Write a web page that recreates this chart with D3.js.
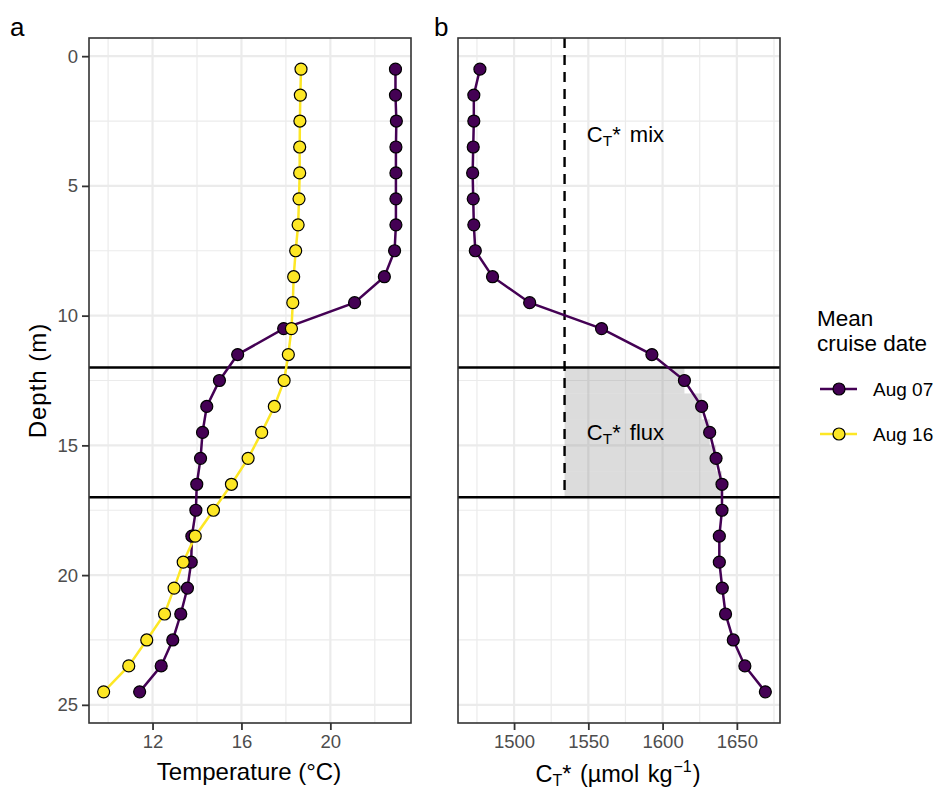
<!DOCTYPE html>
<html>
<head>
<meta charset="utf-8">
<script src="https://cdn.jsdelivr.net/npm/d3@7"></script>
<style>
body { margin: 0; background: #fff; }
text { font-family: "Liberation Sans", Arial, sans-serif; }
</style>
</head>
<body>
<div id="chart"></div>
<script>
// depth of each bin (m)
var depth = [0.5, 1.5, 2.5, 3.5, 4.5, 5.5, 6.5, 7.5, 8.5, 9.5, 10.5, 11.5, 12.5,
             13.5, 14.5, 15.5, 16.5, 17.5, 18.5, 19.5, 20.5, 21.5, 22.5, 23.5, 24.5];
// temperature (°C)
var tempAug07 = [22.93, 22.93, 22.97, 22.95, 22.95, 22.95, 22.95, 22.89, 22.43, 21.09,
                 17.90, 15.83, 15.01, 14.44, 14.25, 14.16, 13.99, 13.95, 13.77, 13.74,
                 13.57, 13.27, 12.91, 12.39, 11.42];
var tempAug16 = [18.68, 18.65, 18.63, 18.62, 18.62, 18.59, 18.55, 18.44, 18.35, 18.31,
                 18.25, 18.11, 17.92, 17.48, 16.91, 16.30, 15.55, 14.74, 13.92, 13.38,
                 12.97, 12.54, 11.74, 10.93, 9.80];
// CT* (umol/kg), Aug 07 only
var ctAug07 = [1477.0, 1472.9, 1472.9, 1472.5, 1472.1, 1472.5, 1472.9, 1473.9, 1485.5, 1510.5,
               1558.9, 1592.8, 1614.7, 1626.3, 1631.7, 1636.0, 1640.0, 1640.0, 1638.2, 1638.2,
               1640.2, 1642.4, 1647.6, 1655.4, 1669.2];

var seriesNames = ["Aug 07", "Aug 16"];
var seriesColors = ["#440154", "#FDE725"];

var ctMix = 1534;          // dashed line
var layerDepths = [12, 17]; // flux layer bounds

var depthTicks = [0, 5, 10, 15, 20, 25];
var depthMinor = [2.5, 7.5, 12.5, 17.5, 22.5];
var tempTicks = [12, 16, 20];
var tempMinor = [10, 14, 18, 22];
var ctTicks = [1500, 1550, 1600, 1650];
var ctMinor = [1475, 1525, 1575, 1625, 1675];

var width = 936, height = 790;
var pTop = 38, pBottom = 723;

var svg = d3.select("#chart").append("svg").attr("width", width).attr("height", height);

function pad(ext) {
	var r = ext[1] - ext[0];
	return [ext[0] - 0.05 * r, ext[1] + 0.05 * r];
}

var y = d3.scaleLinear().domain(pad(d3.extent(depth))).range([pTop, pBottom]);
var xa = d3.scaleLinear().domain(pad(d3.extent(tempAug07.concat(tempAug16)))).range([89, 411]);
var xb = d3.scaleLinear().domain(pad(d3.extent(ctAug07))).range([458, 780]);

function grid(g, x, major, minor) {
	var x0 = x.range()[0], x1 = x.range()[1];
	g.selectAll(".vmin").data(minor).enter().append("line")
		.attr("x1", function(d){ return x(d); }).attr("x2", function(d){ return x(d); })
		.attr("y1", pTop).attr("y2", pBottom)
		.attr("stroke", "#EBEBEB").attr("stroke-width", 1.2);
	g.selectAll(".hmin").data(depthMinor).enter().append("line")
		.attr("x1", x0).attr("x2", x1)
		.attr("y1", function(d){ return y(d); }).attr("y2", function(d){ return y(d); })
		.attr("stroke", "#EBEBEB").attr("stroke-width", 1.2);
	g.selectAll(".vmaj").data(major).enter().append("line")
		.attr("x1", function(d){ return x(d); }).attr("x2", function(d){ return x(d); })
		.attr("y1", pTop).attr("y2", pBottom)
		.attr("stroke", "#EBEBEB").attr("stroke-width", 2.2);
	g.selectAll(".hmaj").data(depthTicks).enter().append("line")
		.attr("x1", x0).attr("x2", x1)
		.attr("y1", function(d){ return y(d); }).attr("y2", function(d){ return y(d); })
		.attr("stroke", "#EBEBEB").attr("stroke-width", 2.2);
}

function hlines(g, x) {
	g.selectAll(".hl").data(layerDepths).enter().append("line")
		.attr("x1", x.range()[0]).attr("x2", x.range()[1])
		.attr("y1", function(d){ return y(d); }).attr("y2", function(d){ return y(d); })
		.attr("stroke", "#000").attr("stroke-width", 2.4);
}

function profile(g, x, values, color) {
	var pts = depth.map(function(d, i){ return {d: d, v: values[i]}; });
	var line = d3.line().x(function(p){ return x(p.v); }).y(function(p){ return y(p.d); });
	g.append("path").datum(pts).attr("d", line)
		.attr("fill", "none").attr("stroke", color).attr("stroke-width", 2.5);
	return pts;
}

function dots(g, x, pts, color) {
	g.selectAll(null).data(pts).enter().append("circle")
		.attr("cx", function(p){ return x(p.v); }).attr("cy", function(p){ return y(p.d); })
		.attr("r", 6).attr("fill", color).attr("stroke", "#000").attr("stroke-width", 1.2);
}

function frame(g, x) {
	g.append("rect").attr("x", x.range()[0]).attr("y", pTop)
		.attr("width", x.range()[1] - x.range()[0]).attr("height", pBottom - pTop)
		.attr("fill", "none").attr("stroke", "#333").attr("stroke-width", 1.6);
}

function xAxis(x, ticks) {
	var ax = svg.append("g").attr("transform", "translate(0," + pBottom + ")")
		.call(d3.axisBottom(x).tickValues(ticks).tickFormat(d3.format("d")).tickSize(7).tickPadding(5));
	ax.select(".domain").remove();
	ax.selectAll("line").attr("stroke", "#333").attr("stroke-width", 1.8);
	ax.selectAll("text").attr("fill", "#4D4D4D").style("font-size", "18.5px")
		.style("font-family", "'Liberation Sans', Arial, sans-serif");
}

// ---- panel a ----
var ga = svg.append("g");
grid(ga, xa, tempTicks, tempMinor);
hlines(ga, xa);
var p07 = profile(ga, xa, tempAug07, seriesColors[0]);
var p16 = profile(ga, xa, tempAug16, seriesColors[1]);
dots(ga, xa, p07, seriesColors[0]);
dots(ga, xa, p16, seriesColors[1]);
frame(ga, xa);
xAxis(xa, tempTicks);

var ay = svg.append("g").attr("transform", "translate(89,0)")
	.call(d3.axisLeft(y).tickValues(depthTicks).tickSize(7).tickPadding(4));
ay.select(".domain").remove();
ay.selectAll("line").attr("stroke", "#333").attr("stroke-width", 1.8);
ay.selectAll("text").attr("fill", "#4D4D4D").style("font-size", "18.5px")
	.style("font-family", "'Liberation Sans', Arial, sans-serif");

svg.append("text").attr("x", 249).attr("y", 780).attr("text-anchor", "middle")
	.style("font-size", "24px").text("Temperature (°C)");
svg.append("text").attr("transform", "translate(46," + ((pTop + pBottom) / 2) + ") rotate(-90)")
	.attr("text-anchor", "middle").style("font-size", "24px").attr("letter-spacing", 1)
	.text("Depth (m)");

// ---- panel b ----
var gb = svg.append("g");
grid(gb, xb, ctTicks, ctMinor);
var pct = depth.map(function(d, i){ return {d: d, v: ctAug07[i]}; });
var fluxBins = pct.filter(function(p){ return p.d > layerDepths[0] && p.d < layerDepths[1]; });
gb.selectAll(".flux").data(fluxBins).enter().append("rect")
	.attr("x", xb(ctMix))
	.attr("y", function(p){ return y(p.d - 0.5); })
	.attr("width", function(p){ return xb(p.v) - xb(ctMix); })
	.attr("height", function(p){ return y(p.d + 0.5) - y(p.d - 0.5); })
	.attr("fill", "#7F7F7F").attr("fill-opacity", 0.27);
gb.append("line").attr("x1", xb(ctMix)).attr("x2", xb(ctMix))
	.attr("y1", pTop).attr("y2", y(layerDepths[1]))
	.attr("stroke", "#000").attr("stroke-width", 2.4).attr("stroke-dasharray", "10,7");
hlines(gb, xb);
profile(gb, xb, ctAug07, seriesColors[0]);
dots(gb, xb, pct, seriesColors[0]);
frame(gb, xb);
xAxis(xb, ctTicks);

function ctLabel(sel, rest, size) {
	sel.append("tspan").text("C");
	sel.append("tspan").attr("dy", 4).style("font-size", (size * 0.7) + "px").text("T");
	sel.append("tspan").attr("dy", -4).text(rest);
}
var mixLbl = svg.append("text").attr("x", xb(1575)).attr("y", y(3) + 8)
	.attr("text-anchor", "middle").style("font-size", "22px").attr("word-spacing", 3);
ctLabel(mixLbl, "* mix", 22);
var fluxLbl = svg.append("text").attr("x", xb(1575)).attr("y", y(14.5) + 8)
	.attr("text-anchor", "middle").style("font-size", "22px").attr("word-spacing", 3);
ctLabel(fluxLbl, "* flux", 22);

var bt = svg.append("text").attr("x", 618).attr("y", 782).attr("text-anchor", "middle")
	.style("font-size", "23.5px").attr("word-spacing", 2);
bt.append("tspan").text("C");
bt.append("tspan").attr("dy", 4).style("font-size", "16px").text("T");
bt.append("tspan").attr("dy", -4).text("* (µmol kg");
bt.append("tspan").attr("dy", -10).attr("dx", 1).style("font-size", "16px").text("−1");
bt.append("tspan").attr("dy", 10).attr("dx", 1).text(")");

// panel tags
svg.append("text").attr("x", 10).attr("y", 36).style("font-size", "26px").text("a");
svg.append("text").attr("x", 434).attr("y", 36).style("font-size", "26px").text("b");

// ---- legend ----
var lg = svg.append("g");
lg.append("text").attr("x", 817).attr("y", 326).style("font-size", "22.5px").text("Mean");
lg.append("text").attr("x", 817).attr("y", 351).style("font-size", "22.5px").text("cruise date");
var keys = lg.selectAll(".key").data(seriesNames).enter().append("g")
	.attr("transform", function(d, i){ return "translate(0," + (389 + i * 45) + ")"; });
keys.append("line").attr("x1", 820).attr("x2", 857)
	.attr("stroke", function(d, i){ return seriesColors[i]; }).attr("stroke-width", 2.5);
keys.append("circle").attr("cx", 839).attr("r", 6)
	.attr("fill", function(d, i){ return seriesColors[i]; }).attr("stroke", "#000").attr("stroke-width", 1.2);
keys.append("text").attr("x", 873).attr("y", 6.5).style("font-size", "19px").text(function(d){ return d; });
</script>
</body>
</html>
